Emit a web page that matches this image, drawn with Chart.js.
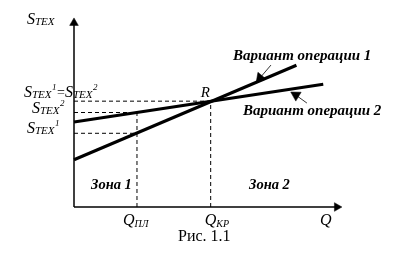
<!DOCTYPE html>
<html><head><meta charset="utf-8">
<script src="https://cdn.jsdelivr.net/npm/chart.js@4/dist/chart.umd.min.js"></script>
<style>html,body{margin:0;padding:0;background:#fff}</style>
</head><body>
<canvas id="c" width="405" height="256"></canvas>
<script>
// ---- data (in arbitrary units 0..10) ----
const qMarks = [2.35, 5.1];            // Q_ПЛ, Q_КР
const variant1 = [0, 2.5, 8.3, 7.5];   // x0, y0, x1, y1  (Вариант операции 1)
const variant2 = [0, 4.5, 9.3, 6.5];   // x0, y0, x1, y1  (Вариант операции 2)
const sLevels = [3.9, 5.0, 5.6];       // S_ТЕХ^1, S_ТЕХ^2 at Q_ПЛ, S at point R
const axisEnd = [9.81, 9.74];          // arrow ends of Q axis and S axis
const pointer1 = [7.35, 7.51, 6.94, 6.83]; // callout line to variant 1
const pointer2 = [8.69, 5.50, 8.28, 5.92]; // callout line to variant 2

const pt = (x, y) => ({x, y});
const seg = (a, b, c, d) => [pt(a, b), pt(c, d)];

const base = {type: 'scatter', showLine: true, pointRadius: 0, borderColor: '#000',
  backgroundColor: '#000', clip: false, fill: false, tension: 0};
const dash = {...base, borderWidth: 1, borderDash: [4, 3]};

const datasets = [
  {...dash, data: seg(0, sLevels[2], qMarks[1], sLevels[2])},
  {...dash, data: seg(0, sLevels[1], qMarks[0], sLevels[1])},
  {...dash, data: seg(0, sLevels[0], qMarks[0], sLevels[0])},
  {...dash, data: seg(qMarks[0], 0, qMarks[0], sLevels[1])},
  {...dash, data: seg(qMarks[1], 0, qMarks[1], sLevels[2])},
  {...base, borderWidth: 3, data: seg(...variant1)},
  {...base, borderWidth: 3, data: seg(...variant2)},
  {...base, borderWidth: 1.5, data: seg(0, 0, 0, axisEnd[1]),
    pointRadius: [0, 5], pointStyle: 'triangle', pointRotation: [0, 0], pointBorderWidth: 0.5},
  {...base, borderWidth: 1.5, data: seg(0, 0, axisEnd[0], 0),
    pointRadius: [0, 5], pointStyle: 'triangle', pointRotation: [0, 90], pointBorderWidth: 0.5},
  {...base, borderWidth: 0.8, data: seg(...pointer1),
    pointRadius: [0, 6], pointStyle: 'triangle', pointRotation: [0, 220], pointBorderWidth: 0.5},
  {...base, borderWidth: 0.8, data: seg(...pointer2),
    pointRadius: [0, 6], pointStyle: 'triangle', pointRotation: [0, 301], pointBorderWidth: 0.5},
];

const SERIF = '"Liberation Serif", "Times New Roman", serif';
function put(ctx, s, x, y, font) { ctx.font = font; ctx.fillText(s, x, y); return x + ctx.measureText(s).width; }
function sLabel(ctx, x, y, sup) {
  x = put(ctx, 'S', x, y, 'italic 16px ' + SERIF);
  x = put(ctx, 'ТЕХ', x, y + 1, 'italic 11px ' + SERIF);
  if (sup) x = put(ctx, sup, x + 0.5, y - 7, 'italic 9px ' + SERIF);
  return x;
}

const labels = {
  id: 'labels',
  afterDatasetsDraw(chart) {
    const ctx = chart.ctx, xs = chart.scales.x, ys = chart.scales.y;
    ctx.save();
    ctx.fillStyle = '#000';
    ctx.textBaseline = 'alphabetic';
    sLabel(ctx, 27, 24);
    let x = sLabel(ctx, 24, 97, '1');
    x = put(ctx, '=', x + 0.5, 97, '14px ' + SERIF);
    sLabel(ctx, x, 97, '2');
    sLabel(ctx, 32, 113, '2');
    sLabel(ctx, 27, 133, '1');
    // Q labels
    const qFont = 'italic 16px ' + SERIF, subFont = 'italic 10px ' + SERIF;
    let qx = put(ctx, 'Q', xs.getPixelForValue(qMarks[0]) - 14, 225, qFont);
    put(ctx, 'ПЛ', qx, 227, subFont);
    qx = put(ctx, 'Q', xs.getPixelForValue(qMarks[1]) - 6, 225, qFont);
    put(ctx, 'КР', qx, 227, subFont);
    put(ctx, 'Q', 320, 225, qFont);
    // R
    put(ctx, 'R', xs.getPixelForValue(qMarks[1]) - 10, ys.getPixelForValue(sLevels[2]) - 4, 'italic 15px ' + SERIF);
    // variants
    const vFont = 'bold italic 15px ' + SERIF;
    put(ctx, 'Вариант операции 1', 233, 60, vFont);
    put(ctx, 'Вариант операции 2', 243, 115, vFont);
    // zones
    const zFont = 'bold italic 14.5px ' + SERIF;
    put(ctx, 'Зона 1', 91, 189, zFont);
    put(ctx, 'Зона 2', 249, 189, zFont);
    // caption
    put(ctx, 'Рис. 1.1', 178, 241, '16px ' + SERIF);
    ctx.restore();
  }
};

new Chart(document.getElementById('c'), {
  type: 'scatter',
  data: {datasets},
  options: {
    responsive: false, animation: false, events: [], devicePixelRatio: 1,
    layout: {padding: {left: 74, right: 63, top: 18, bottom: 49}},
    plugins: {legend: {display: false}, tooltip: {enabled: false}, title: {display: false}},
    scales: {
      x: {type: 'linear', min: 0, max: 10, display: false},
      y: {type: 'linear', min: 0, max: 10, display: false}
    }
  },
  plugins: [labels]
});
</script>
</body></html>
